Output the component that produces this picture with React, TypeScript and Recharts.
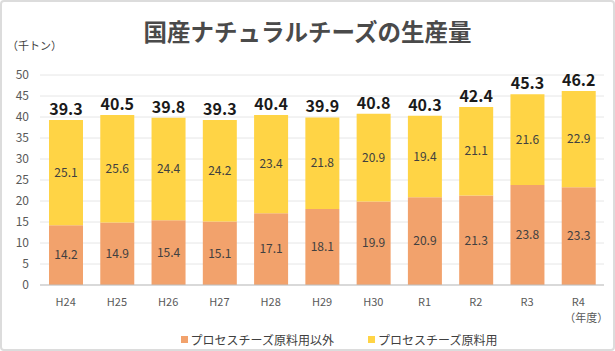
import React from "react";
import { BarChart, Bar, XAxis, YAxis, CartesianGrid, LabelList, Legend } from "recharts";

const categories = ["H24", "H25", "H26", "H27", "H28", "H29", "H30", "R1", "R2", "R3", "R4"];
const otherUse = [14.2, 14.9, 15.4, 15.1, 17.1, 18.1, 19.9, 20.9, 21.3, 23.8, 23.3];
const processUse = [25.1, 25.6, 24.4, 24.2, 23.4, 21.8, 20.9, 19.4, 21.1, 21.6, 22.9];
const totals = [39.3, 40.5, 39.8, 39.3, 40.4, 39.9, 40.8, 40.3, 42.4, 45.3, 46.2];
const yTicks = [0, 5, 10, 15, 20, 25, 30, 35, 40, 45, 50];
const seriesNames = ["プロセスチーズ原料用以外", "プロセスチーズ原料用"];

const data = categories.map((c, i) => ({
  name: c,
  other: otherUse[i],
  process: processUse[i],
  total: totals[i],
}));

const ORANGE = "#F2A26C";
const YELLOW = "#FFD445";
const FONT = "'Noto Sans CJK JP', 'Noto Sans', sans-serif";

const XTick = (props: any) => {
  const { x, y, payload } = props;
  const isLast = payload.value === "R4";
  return (
    <g>
      <text x={x} y={y + 13} textAnchor="middle" fontSize={11} fill="#595959" fontFamily={FONT}>
        {payload.value}
      </text>
      {isLast && (
        <text x={x + 8} y={y + 29} textAnchor="middle" fontSize={11} fill="#595959" fontFamily={FONT}>
          （年度）
        </text>
      )}
    </g>
  );
};

const LegendContent = () => (
  <div style={{ display: "flex", justifyContent: "center", gap: 34, fontFamily: FONT, fontSize: 12, color: "#404040", marginLeft: 74, marginTop: 16 }}>
    {seriesNames.map((n, i) => (
      <div key={n} style={{ display: "flex", alignItems: "center" }}>
        <span style={{ display: "inline-block", width: 7, height: 7, background: i === 0 ? ORANGE : YELLOW, marginRight: 3 }} />
        <span>{n}</span>
      </div>
    ))}
  </div>
);

export default function App() {
  return (
    <div style={{ position: "fixed", left: 0, top: 0, width: 615, height: 351, background: "#fff", fontFamily: FONT }}>
      <div style={{ position: "absolute", inset: 0, border: "2px solid #dcdcdc", borderRadius: 4, boxSizing: "border-box", pointerEvents: "none" }} />
      <div style={{ position: "absolute", left: 0, width: 615, top: 16, textAlign: "center", fontSize: 23.5, fontWeight: 700, color: "#4a4a4a", whiteSpace: "nowrap", lineHeight: "30px" }}>
        国産ナチュラルチーズの生産量
      </div>
      <div style={{ position: "absolute", left: 7, top: 37, fontSize: 11, color: "#404040" }}>（千トン）</div>
      <BarChart
        width={615}
        height={351}
        data={data}
        margin={{ top: 75, right: 11, left: 0, bottom: 14 }}
        barSize={34}
      >
        <CartesianGrid vertical={false} stroke="#e6e6e6" />
        <XAxis
          dataKey="name"
          tick={<XTick />}
          tickLine={false}
          axisLine={{ stroke: "#bfbfbf" }}
          height={30}
          interval={0}
        />
        <YAxis
          domain={[0, 50]}
          ticks={yTicks}
          width={40}
          tickLine={false}
          axisLine={false}
          tickMargin={5}
          tick={{ fontSize: 12, fill: "#595959", fontFamily: FONT }}
          interval={0}
        />
        <Legend verticalAlign="bottom" height={22} content={<LegendContent />} />
        <Bar dataKey="other" stackId="a" fill={ORANGE} isAnimationActive={false}>
          <LabelList dataKey="other" position="center" fontSize={12} fill="#404040" fontFamily={FONT} />
        </Bar>
        <Bar dataKey="process" stackId="a" fill={YELLOW} isAnimationActive={false}>
          <LabelList dataKey="process" position="center" fontSize={12} fill="#404040" fontFamily={FONT} />
          <LabelList dataKey="total" position="top" offset={5} fontSize={16} fontWeight={700} fill="#1a1a1a" fontFamily={FONT} />
        </Bar>
      </BarChart>
    </div>
  );
}
